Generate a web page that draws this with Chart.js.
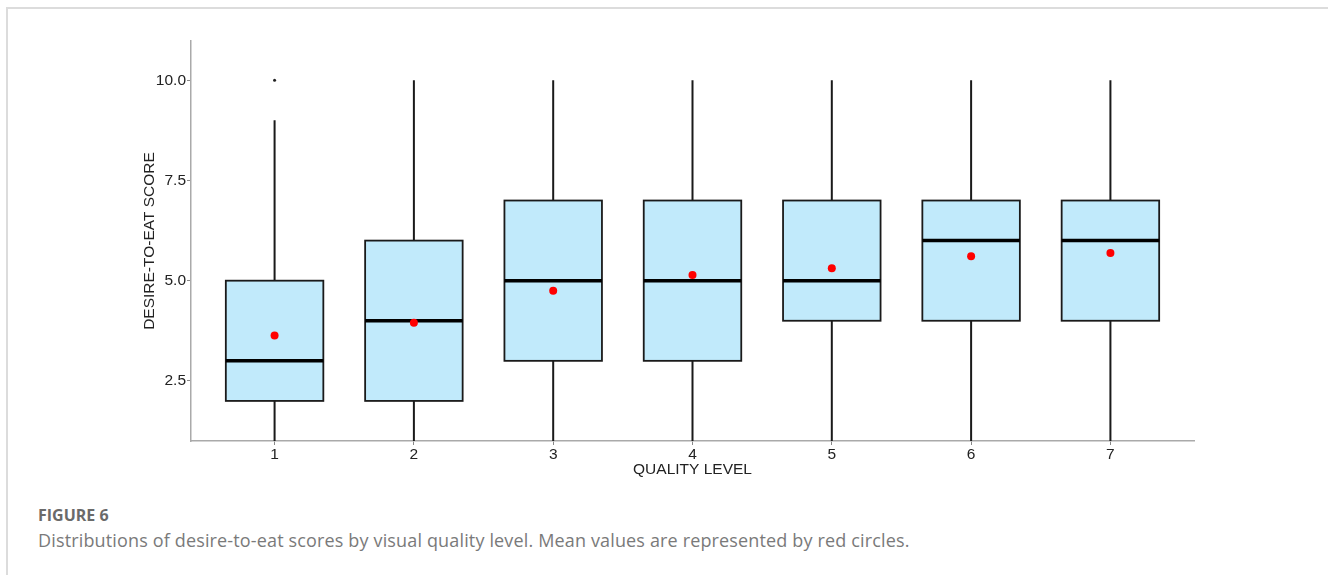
<!DOCTYPE html>
<html>
<head>
<meta charset="utf-8">
<script src="https://cdn.jsdelivr.net/npm/chart.js@4.4.1/dist/chart.umd.min.js"></script>
<style>
    html, body { margin: 0; padding: 0; background: #fff; }
    body { width: 1328px; height: 575px; position: relative; overflow: hidden; }
    .frame {
        position: absolute; left: 6px; top: 7px; right: 0; bottom: 0;
        border-top: 2px solid #dcdcdc; border-left: 2px solid #dcdcdc;
    }
    .chart-box { position: absolute; left: 0; top: 0; width: 1328px; height: 490px; }
    .caption { position: absolute; left: 38px; top: 503px; font-family: "Open Sans", sans-serif; }
    .caption .title { font-size: 16px; font-weight: 700; color: #6a6a6a; line-height: 24px; }
    .caption .text { font-size: 18px; letter-spacing: 0.15px; color: #7a7a7a; line-height: 26px; }
</style>
</head>
<body>
<div class="frame"></div>
<div class="chart-box"><canvas id="boxChart"></canvas></div>
<div class="caption">
    <div class="title">FIGURE 6</div>
    <div class="text">Distributions of desire-to-eat scores by visual quality level. Mean values are represented by red circles.</div>
</div>
<script>
// Quality levels and box statistics
const levels = [1, 2, 3, 4, 5, 6, 7];
const whiskerLow = [1, 1, 1, 1, 1, 1, 1];
const q1 = [2, 2, 3, 3, 4, 4, 4];
const medians = [3, 4, 5, 5, 5, 6, 6];
const q3 = [5, 6, 7, 7, 7, 7, 7];
const whiskerHigh = [9, 10, 10, 10, 10, 10, 10];
const means = [3.63, 3.95, 4.75, 5.14, 5.31, 5.61, 5.69];
const outlierLevels = [1];
const outlierValues = [10];
const yTicks = [2.5, 5.0, 7.5, 10.0];

const BOX_FILL = '#c1eafb';
const INK = '#1a1a1a';

// Draws the boxes and whiskers from the scales
const boxPlugin = {
    id: 'boxes',
    beforeDatasetsDraw(chart) {
        const { ctx, scales: { x, y } } = chart;
        const half = 0.35;
        ctx.save();
        levels.forEach((lv, i) => {
            const cx = x.getPixelForValue(lv);
            const left = x.getPixelForValue(lv - half);
            const right = x.getPixelForValue(lv + half);
            const yLow = y.getPixelForValue(whiskerLow[i]);
            const yQ1 = y.getPixelForValue(q1[i]);
            const yMed = y.getPixelForValue(medians[i]);
            const yQ3 = y.getPixelForValue(q3[i]);
            const yHigh = y.getPixelForValue(whiskerHigh[i]);

            // whiskers
            ctx.strokeStyle = INK;
            ctx.lineWidth = 2;
            ctx.beginPath();
            ctx.moveTo(cx, yLow); ctx.lineTo(cx, yQ1);
            ctx.moveTo(cx, yQ3); ctx.lineTo(cx, yHigh);
            ctx.stroke();

            // box
            ctx.fillStyle = BOX_FILL;
            ctx.fillRect(left, yQ3, right - left, yQ1 - yQ3);
            ctx.lineWidth = 1.8;
            ctx.strokeRect(left, yQ3, right - left, yQ1 - yQ3);

            // median
            ctx.lineWidth = 3.5;
            ctx.strokeStyle = '#000';
            ctx.beginPath();
            ctx.moveTo(left, yMed); ctx.lineTo(right, yMed);
            ctx.stroke();
        });
        ctx.restore();
    }
};

const tickFont = { family: '"Liberation Sans", Arial, sans-serif', size: 15.5 };

new Chart(document.getElementById('boxChart').getContext('2d'), {
    type: 'scatter',
    data: {
        datasets: [
            {
                label: 'Mean',
                data: levels.map((lv, i) => ({ x: lv, y: means[i] })),
                backgroundColor: '#ff0000',
                borderWidth: 0,
                pointRadius: 4
            },
            {
                label: 'Outlier',
                data: outlierLevels.map((lv, i) => ({ x: lv, y: outlierValues[i] })),
                backgroundColor: '#222',
                borderWidth: 0,
                pointRadius: 1.5
            }
        ]
    },
    options: {
        responsive: true,
        maintainAspectRatio: false,
        animation: false,
        layout: { padding: { top: 41, right: 134, left: 136, bottom: 7 } },
        plugins: { legend: { display: false }, tooltip: { enabled: false } },
        scales: {
            x: {
                type: 'linear',
                min: 0.4,
                max: 7.6,
                afterBuildTicks: s => { s.ticks = levels.map(v => ({ value: v })); },
                afterFit: s => { s.height = 42; },
                ticks: { color: '#222', font: tickFont, padding: 0, callback: v => String(v) },
                grid: { drawOnChartArea: false, drawTicks: true, tickLength: 4, color: '#888' },
                border: { color: '#aaa', width: 1.5 },
                title: {
                    display: true, text: 'QUALITY LEVEL', color: '#222',
                    font: tickFont, padding: { top: 0, bottom: 4 }
                }
            },
            y: {
                min: 1,
                max: 10.98,
                afterBuildTicks: s => { s.ticks = yTicks.map(v => ({ value: v })); },
                afterFit: s => { s.width = 55; },
                ticks: { color: '#222', font: tickFont, padding: 1, callback: v => v.toFixed(1) },
                grid: { drawOnChartArea: false, drawTicks: true, tickLength: 4, color: '#888' },
                border: { color: '#aaa', width: 1.5 },
                title: {
                    display: true, text: 'DESIRE-TO-EAT SCORE', color: '#222',
                    font: tickFont, padding: { top: 4, bottom: 0 }
                }
            }
        }
    },
    plugins: [boxPlugin]
});
</script>
</body>
</html>
